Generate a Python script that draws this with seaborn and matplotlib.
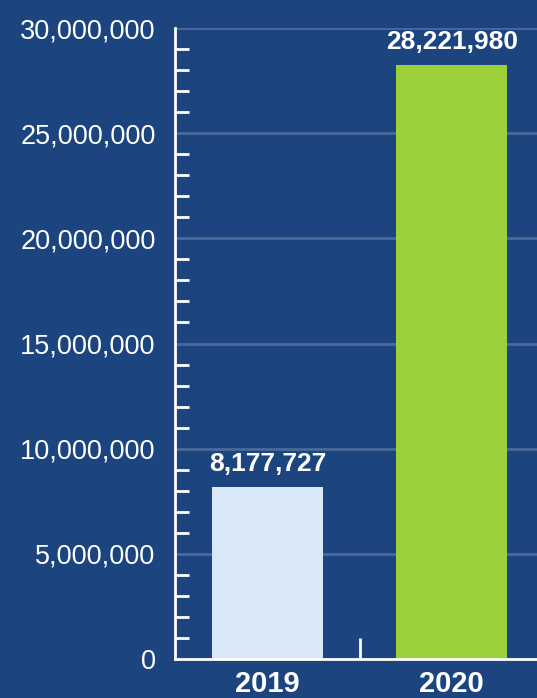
import numpy as np
import pandas as pd
import seaborn as sns
import matplotlib.pyplot as plt
from matplotlib.ticker import FuncFormatter, MultipleLocator, FixedLocator

# データ
years = ['2019', '2020']
values = [8177727, 28221980]
bar_colors = ['#d9e7f6', '#9bd03a']

bg = '#1c4580'

sns.set_theme(style='white')
plt.rcParams['font.family'] = ['Liberation Sans', 'DejaVu Sans']

df = pd.DataFrame({'year': years, 'value': values})

fig = plt.figure(figsize=(5.37, 6.98), dpi=100, facecolor=bg)
ax = fig.add_axes([175 / 537, 39 / 698, 369 / 537, 631 / 698])
ax.set_facecolor(bg)

sns.barplot(data=df, x='year', y='value', hue='year', palette=bar_colors,
            width=0.6, legend=False, ax=ax, saturation=1, linewidth=0)

ax.set_ylim(0, 30000000)
ax.set_xlim(-0.5, 1.5)
ax.yaxis.set_major_locator(MultipleLocator(5000000))
ax.yaxis.set_minor_locator(MultipleLocator(1000000))
ax.yaxis.set_major_formatter(FuncFormatter(lambda v, p: f'{int(v):,}'))
ax.grid(axis='y', color='white', alpha=0.2, linewidth=2)
ax.set_axisbelow(True)

ax.tick_params(axis='y', which='major', length=0, pad=14, labelsize=19.5, labelcolor='white')
ax.tick_params(axis='y', which='minor', direction='in', length=10, width=2, color='white', left=True)
ax.xaxis.set_minor_locator(FixedLocator([0.5]))
ax.tick_params(axis='x', which='major', length=0, pad=8, labelsize=21, labelcolor='white')
ax.tick_params(axis='x', which='minor', direction='in', length=15, width=2, color='white', bottom=True)
for lab in ax.get_xticklabels():
    lab.set_fontweight('bold')

ax.set_xlabel('')
ax.set_ylabel('')
for s in ['top', 'right']:
    ax.spines[s].set_visible(False)
for s in ['left', 'bottom']:
    ax.spines[s].set_color('white')
    ax.spines[s].set_linewidth(2)

for c in ax.containers:
    ax.bar_label(c, labels=[f'{v:,}' for v in c.datavalues.astype(int)],
                 padding=8, color='white', fontsize=19, fontweight='bold')

fig.savefig('out.png', dpi=100, facecolor=bg)
